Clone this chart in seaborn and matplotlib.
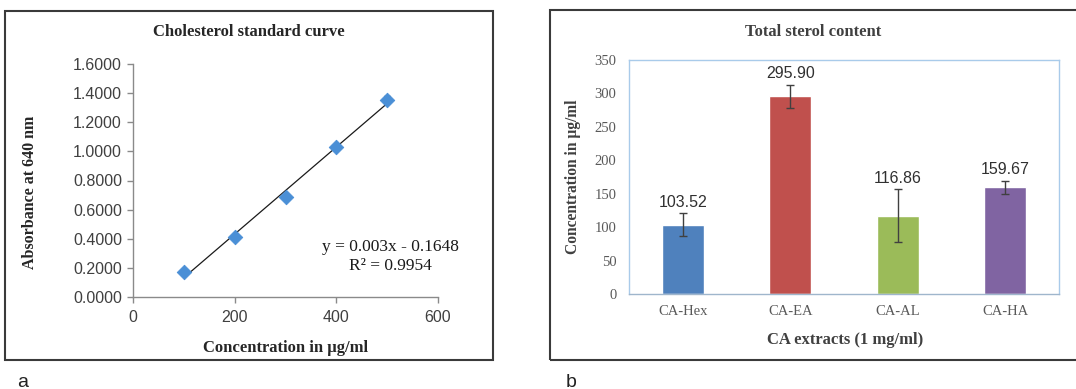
import matplotlib
matplotlib.use("Agg")
import numpy as np
import pandas as pd
import seaborn as sns
import matplotlib.pyplot as plt
from matplotlib.patches import Rectangle

# Panel a: cholesterol standard curve
conc = [100, 200, 300, 400, 500]
absorbance = [0.170, 0.410, 0.690, 1.030, 1.355]
abs_err = [0.008, 0.008, 0.010, 0.010, 0.022]

# Panel b: total sterol content
extracts = ['CA-Hex', 'CA-EA', 'CA-AL', 'CA-HA']
sterol = [103.52, 295.90, 116.86, 159.67]
sterol_err = [17.0, 17.0, 39.5, 9.5]
bar_colors = ['#4F81BD', '#C0504D', '#9BBB59', '#8064A2']

sns.set_style('white')
serif = ['Liberation Serif', 'DejaVu Serif']
sans = ['Liberation Sans', 'DejaVu Sans']
plt.rcParams['font.family'] = sans

fig = plt.figure(figsize=(10.76, 3.89), dpi=100)
W, H = 1076, 389

# outer panel frames
fig.patches.append(Rectangle((5 / W, 1 - 360 / H), 488 / W, 349 / H, transform=fig.transFigure,
                             fill=False, edgecolor='#3a3a3a', lw=1.5))
fig.patches.append(Rectangle((550 / W, 1 - 360 / H), 540 / W, 350 / H, transform=fig.transFigure,
                             fill=False, edgecolor='#3a3a3a', lw=1.5))

# ---- panel a ----
ax1 = fig.add_axes([133 / W, 1 - 297 / H, 305 / W, 233 / H])
df_a = pd.DataFrame({'conc': conc, 'abs': absorbance})
sns.regplot(data=df_a, x='conc', y='abs', ci=None, ax=ax1, scatter=False,
            line_kws={'color': '#1a1a1a', 'lw': 0.9})
ax1.errorbar(conc, absorbance, yerr=abs_err, fmt='none', ecolor='#1a1a1a', elinewidth=0.8, capsize=2)
sns.scatterplot(data=df_a, x='conc', y='abs', marker='D', s=55, color='#4A8FD6',
                edgecolor='#4A8FD6', ax=ax1, zorder=3)
ax1.set_xlim(0, 600)
ax1.set_ylim(0, 1.6)
ax1.set_xticks([0, 200, 400, 600])
ax1.set_yticks(np.arange(0, 1.61, 0.2))
ax1.set_yticklabels([f'{v:.4f}' for v in np.arange(0, 1.61, 0.2)])
for s in ['top', 'right']:
    ax1.spines[s].set_visible(False)
for s in ['left', 'bottom']:
    ax1.spines[s].set_color('#8a8a8a')
    ax1.spines[s].set_linewidth(1.0)
ax1.tick_params(axis='both', direction='out', length=4, width=1, color='#8a8a8a',
                labelsize=11.5, labelcolor='#404040', left=True, bottom=True)
ax1.tick_params(axis='y', pad=4)
ax1.tick_params(axis='x', pad=5)
ax1.set_xlabel('Concentration in µg/ml', fontsize=12, fontweight='bold', family=serif)
ax1.set_ylabel('Absorbance at 640 nm', fontsize=11.5, fontweight='bold', family=serif)
ax1.xaxis.set_label_coords(0.50, -0.185)
ax1.yaxis.set_label_coords(-0.31, 0.45)
ax1.text(0.845, 0.174, 'y = 0.003x - 0.1648\nR² = 0.9954', transform=ax1.transAxes,
         ha='center', va='center', fontsize=12.5, family=serif, color='#1a1a1a', linespacing=1.2)
fig.text(249 / W, 1 - 32 / H, 'Cholesterol standard curve', ha='center', va='center',
         fontsize=12, fontweight='bold', family=serif)

# ---- panel b ----
ax2 = fig.add_axes([629 / W, 1 - 294 / H, 430 / W, 234 / H])
df_b = pd.DataFrame({'extract': extracts, 'sterol': sterol})
sns.barplot(data=df_b, x='extract', y='sterol', hue='extract', palette=bar_colors,
            width=0.39, legend=False, ax=ax2, saturation=1, errorbar=None)
ax2.errorbar(range(len(extracts)), sterol, yerr=sterol_err, fmt='none', ecolor='#404040',
             elinewidth=1, capsize=3)
for i, (v, e) in enumerate(zip(sterol, sterol_err)):
    ax2.annotate(f'{v:.2f}', (i, v + e), xytext=(0, 8), textcoords='offset points',
                 ha='center', va='center', fontsize=11.5, color='#303030')
ax2.set_xlim(-0.5, 3.5)
ax2.set_ylim(0, 350)
ax2.set_yticks(range(0, 351, 50))
for s in ax2.spines.values():
    s.set_color('#A9CBEA')
    s.set_linewidth(1.0)
ax2.spines['bottom'].set_color('#9FB6CC')
ax2.tick_params(axis='both', length=0, labelcolor='#595959', labelsize=10.5)
ax2.tick_params(axis='y', pad=9)
ax2.tick_params(axis='x', pad=8)
for lbl in ax2.get_xticklabels() + ax2.get_yticklabels():
    lbl.set_family(serif)
ax2.set_xlabel('CA extracts (1 mg/ml)', fontsize=12, fontweight='bold', family=serif, color='#404040')
ax2.set_ylabel('Concentration in µg/ml', fontsize=11.2, fontweight='bold', family=serif, color='#404040')
ax2.xaxis.set_label_coords(0.502, -0.162)
ax2.yaxis.set_label_coords(-0.112, 0.5)
fig.text(813 / W, 1 - 32 / H, 'Total sterol content', ha='center', va='center',
         fontsize=12, fontweight='bold', family=serif, color='#404040')

# panel letters
fig.text(23 / W, 1 - 387 / H, 'a', ha='center', va='baseline', fontsize=14, color='#222222')
fig.text(571 / W, 1 - 387 / H, 'b', ha='center', va='baseline', fontsize=14, color='#222222')

fig.savefig('out.png', dpi=100)
